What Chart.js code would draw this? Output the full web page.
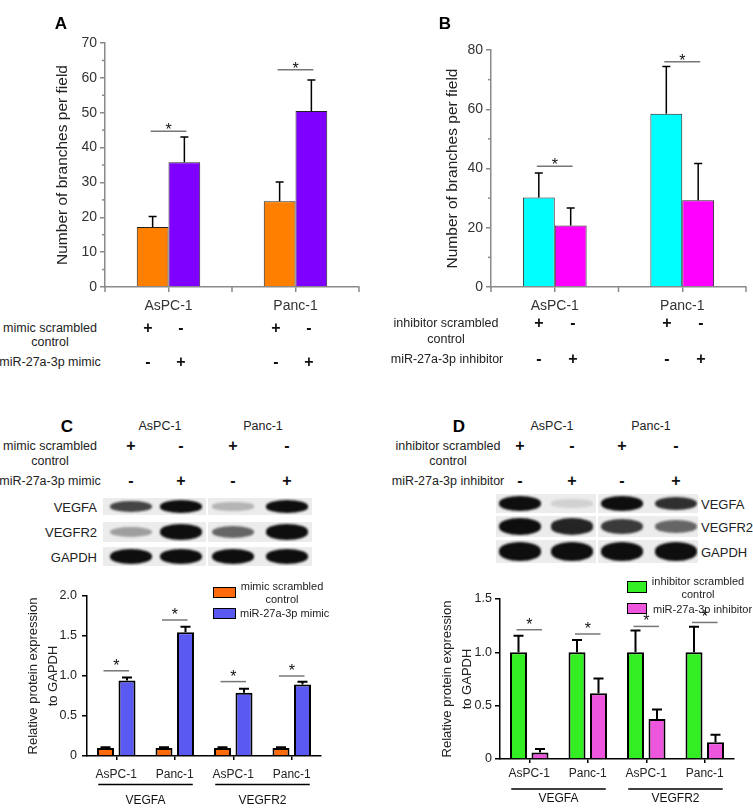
<!DOCTYPE html>
<html>
<head>
<meta charset="utf-8">
<script src="https://cdn.jsdelivr.net/npm/chart.js@4"></script>
<style>
body { margin: 0; background: #fff; width: 753px; height: 808px; position: relative; overflow: hidden;
       font-family: "Liberation Sans", Arial, sans-serif; color: #222; }
canvas { position: absolute; }
.t { position: absolute; white-space: nowrap; line-height: 1; }
.strip { position: absolute; background: #ececec; overflow: hidden; }
.band { position: absolute; border-radius: 50% / 45%; filter: blur(1px); }
</style>
</head>
<body>

<canvas id="chartA" style="left:49px;top:0px" width="327" height="320"></canvas>
<canvas id="chartB" style="left:439px;top:0px" width="314" height="320"></canvas>
<canvas id="chartC" style="left:20px;top:570px" width="356" height="238"></canvas>
<canvas id="chartD" style="left:434px;top:570px" width="319" height="238"></canvas>

<script>
// ---- data ----
const cellLines = ["AsPC-1", "Panc-1"];

// A: tube formation, mimic
const branchesMimicCtrl = [17.2, 24.6];
const branchesMimicCtrlSd = [3.0, 5.5];
const branchesMimic = [35.8, 50.5];
const branchesMimicSd = [7.2, 8.9];
const sigA = [44.7, 62.3];

// B: tube formation, inhibitor
const branchesInhCtrl = [30.2, 58.5];
const branchesInhCtrlSd = [8.3, 15.9];
const branchesInh = [20.8, 29.3];
const branchesInhSd = [5.9, 12.4];
const sigB = [40.8, 76];

// C / D: western blot quantification
const proteinLabels = ["AsPC-1", "Panc-1", "AsPC-1", "Panc-1"];
const proteinGroups = ["VEGFA", "VEGFR2"];

const proteinMimicCtrl = [0.1, 0.1, 0.1, 0.1];
const proteinMimicCtrlSd = [0.01, 0.01, 0.01, 0.01];
const proteinMimic = [0.945, 1.546, 0.79, 0.895];
const proteinMimicSd = [0.035, 0.07, 0.05, 0.033];
const sigC = [1.065, 1.7, 0.93, 1.0];

const proteinInhCtrl = [1.0, 1.0, 1.0, 1.0];
const proteinInhCtrlSd = [0.155, 0.115, 0.205, 0.24];
const proteinInh = [0.06, 0.617, 0.376, 0.157];
const proteinInhSd = [0.034, 0.138, 0.087, 0.071];
const sigD = [1.212, 1.172, 1.243, 1.28];

// blot band intensities (lanes: ctrl, treated, ctrl, treated)
const blotC_VEGFA = [0.75, 1, 0.25, 1];
const blotC_VEGFR2 = [0.35, 1, 0.6, 1];
const blotC_GAPDH = [1, 1, 1, 1];
const blotD_VEGFA = [1, 0.12, 1, 0.85];
const blotD_VEGFR2 = [1, 0.9, 0.8, 0.6];
const blotD_GAPDH = [1, 1, 1, 1];

const FONT = "'Liberation Sans', Arial, sans-serif";

// error bars, significance lines, extra ticks, group labels
const extras = {
    id: "extras",
    afterDatasetsDraw(chart, args, o) {
        const ctx = chart.ctx;
        const x = chart.scales.x;
        const y = chart.scales.y;
        ctx.save();

        chart.data.datasets.forEach((ds, di) => {
            chart.getDatasetMeta(di).data.forEach((bar, i) => {
                const top = y.getPixelForValue(ds.data[i] + ds.sd[i]);
                ctx.strokeStyle = "#000";
                ctx.lineWidth = o.errWidth;
                ctx.beginPath();
                ctx.moveTo(bar.x, bar.y);
                ctx.lineTo(bar.x, top);
                ctx.moveTo(bar.x - o.cap, top);
                ctx.lineTo(bar.x + o.cap, top);
                ctx.stroke();
            });
        });

        const m0 = chart.getDatasetMeta(0).data;
        const m1 = chart.getDatasetMeta(1).data;
        o.sig.forEach((v, i) => {
            const py = y.getPixelForValue(v);
            const x0 = m0[i].x - 2;
            const x1 = m1[i].x + 2;
            ctx.strokeStyle = "#777";
            ctx.lineWidth = 1.5;
            ctx.beginPath();
            ctx.moveTo(x0, py);
            ctx.lineTo(x1, py);
            ctx.stroke();
            ctx.fillStyle = "#111";
            ctx.font = "16px " + FONT;
            ctx.textAlign = "center";
            ctx.textBaseline = "alphabetic";
            ctx.fillText("*", (x0 + x1) / 2, py + o.starDy);
        });

        if (o.boundaryTicks) {
            ctx.strokeStyle = o.axisColor;
            ctx.lineWidth = 1.5;
            for (let i = 0; i <= chart.data.labels.length; i++) {
                const px = x.getPixelForValue(i - 0.5);
                ctx.beginPath();
                ctx.moveTo(px, x.top);
                ctx.lineTo(px, x.top + 5);
                ctx.stroke();
            }
            // short minor ticks on the y axis
            y.ticks.forEach((t, i) => {
                if (t.label !== "") return;
                const py = y.getPixelForTick(i);
                ctx.beginPath();
                ctx.moveTo(y.right, py);
                ctx.lineTo(y.right - 3, py);
                ctx.stroke();
            });
        }

        if (o.groups) {
            ctx.strokeStyle = "#000";
            ctx.lineWidth = 1.5;
            ctx.fillStyle = "#111";
            ctx.font = "12px " + FONT;
            ctx.textAlign = "center";
            ctx.textBaseline = "middle";
            o.groups.forEach((g, gi) => {
                const a = x.getPixelForValue(gi * 2) - 18;
                const b = x.getPixelForValue(gi * 2 + 1) + 18;
                ctx.beginPath();
                ctx.moveTo(a, x.top + o.groupLine);
                ctx.lineTo(b, x.top + o.groupLine);
                ctx.stroke();
                ctx.fillText(g, (a + b) / 2, x.top + o.groupText);
            });
        }
        ctx.restore();
    }
};

function barChart(id, cfg) {

    const ctx = document.getElementById(id);

    return new Chart(ctx, {
        type: "bar",
        data: {
            labels: cfg.labels,
            datasets: cfg.series.map(s => ({
                label: s.label,
                data: s.data,
                sd: s.sd,
                backgroundColor: s.color,
                borderColor: cfg.barBorder,
                borderWidth: cfg.barBorderWidth,
                borderSkipped: "bottom",
                categoryPercentage: cfg.catPct,
                barPercentage: cfg.barPct
            }))
        },
        options: {
            responsive: false,
            animation: false,
            devicePixelRatio: 1,
            layout: { padding: { top: cfg.padTop, right: cfg.padRight, left: 0, bottom: 0 } },
            plugins: {
                legend: { display: false },
                tooltip: { enabled: false },
                extras: {
                    sig: cfg.sig,
                    cap: cfg.cap,
                    errWidth: cfg.errWidth,
                    starDy: cfg.starDy,
                    boundaryTicks: cfg.boundaryTicks,
                    axisColor: cfg.axisColor,
                    groups: cfg.groups,
                    groupLine: cfg.groupLine,
                    groupText: cfg.groupText
                }
            },
            scales: {
                x: {
                    grid: { drawOnChartArea: false, offset: false, color: cfg.axisColor,
                            tickLength: cfg.xTickLen, lineWidth: 1.5 },
                    border: { color: cfg.axisColor, width: 1.5 },
                    ticks: { color: cfg.tickColor, font: { family: FONT, size: cfg.xFont },
                             padding: cfg.xPad, maxRotation: 0, autoSkip: false },
                    afterFit: s => { s.height = cfg.xHeight; }
                },
                y: {
                    min: 0,
                    max: cfg.max,
                    grid: {
                        drawOnChartArea: false,
                        tickLength: 5,
                        lineWidth: 1.5,
                        color: cfg.axisColor,
                        tickColor: c => (c.tick && c.tick.label === "" ? "rgba(0,0,0,0)" : cfg.axisColor)
                    },
                    border: { color: cfg.axisColor, width: 1.5 },
                    ticks: { stepSize: cfg.step, autoSkip: false, color: cfg.tickColor,
                             font: { family: FONT, size: cfg.yFont }, padding: cfg.yPad,
                             callback: cfg.tickFmt },
                    title: { display: true, text: cfg.title, color: "#222",
                             font: { family: FONT, size: cfg.titleFont, lineHeight: cfg.titleLh } },
                    afterFit: s => { s.width = cfg.yWidth; }
                }
            }
        },
        plugins: [extras]
    });
}

const branchTicks = every => v => (v % every === 0 ? String(v) : "");
const ratioTicks = v => (v === 0 ? "0" : v.toFixed(1));

barChart("chartA", {
    labels: cellLines,
    series: [
        { label: "mimic scrambled control", data: branchesMimicCtrl, sd: branchesMimicCtrlSd, color: "#ff8000" },
        { label: "miR-27a-3p mimic", data: branchesMimic, sd: branchesMimicSd, color: "#8000ff" }
    ],
    sig: sigA, max: 70, step: 5, tickFmt: branchTicks(10),
    title: "Number of branches per field", titleFont: 15.5, titleLh: 1.2,
    barBorder: "#222", barBorderWidth: 1, catPct: 0.5, barPct: 1,
    cap: 4, errWidth: 1.5, starDy: 4, boundaryTicks: true,
    axisColor: "#8a8a8a", tickColor: "#333", xFont: 14, yFont: 14, xPad: 6, yPad: 3, xTickLen: 5,
    padTop: 43, padRight: 17, yWidth: 56, xHeight: 33
});

barChart("chartB", {
    labels: cellLines,
    series: [
        { label: "inhibitor scrambled control", data: branchesInhCtrl, sd: branchesInhCtrlSd, color: "#00ffff" },
        { label: "miR-27a-3p inhibitor", data: branchesInh, sd: branchesInhSd, color: "#ff00ff" }
    ],
    sig: sigB, max: 80, step: 10, tickFmt: branchTicks(20),
    title: "Number of branches per field", titleFont: 15.5, titleLh: 1.2,
    barBorder: "#222", barBorderWidth: 1, catPct: 0.5, barPct: 1,
    cap: 4, errWidth: 1.5, starDy: 4, boundaryTicks: true,
    axisColor: "#8a8a8a", tickColor: "#333", xFont: 14, yFont: 14, xPad: 6, yPad: 3, xTickLen: 5,
    padTop: 50, padRight: 7, yWidth: 52, xHeight: 33
});

barChart("chartC", {
    labels: proteinLabels,
    series: [
        { label: "mimic scrambled control", data: proteinMimicCtrl, sd: proteinMimicCtrlSd, color: "#ff6a0a" },
        { label: "miR-27a-3p mimic", data: proteinMimic, sd: proteinMimicSd, color: "#5a5af2" }
    ],
    sig: sigC, max: 2, step: 0.5, tickFmt: ratioTicks,
    title: ["Relative protein expression", "to GAPDH"], titleFont: 13, titleLh: 1.5,
    barBorder: "#000", barBorderWidth: 2, catPct: 0.735, barPct: 0.79,
    cap: 5, errWidth: 2, starDy: 0, boundaryTicks: false,
    groups: proteinGroups, groupLine: 28.5, groupText: 44.5,
    axisColor: "#000", tickColor: "#222", xFont: 12, yFont: 12.5, xPad: 7, yPad: 5, xTickLen: 4,
    padTop: 26, padRight: 55, yWidth: 67, xHeight: 52
});

barChart("chartD", {
    labels: proteinLabels,
    series: [
        { label: "inhibitor scrambled control", data: proteinInhCtrl, sd: proteinInhCtrlSd, color: "#33ee22" },
        { label: "miR-27a-3p inhibitor", data: proteinInh, sd: proteinInhSd, color: "#ee55dd" }
    ],
    sig: sigD, max: 1.5, step: 0.5, tickFmt: ratioTicks,
    title: ["Relative protein expression", "to GAPDH"], titleFont: 13, titleLh: 1.5,
    barBorder: "#000", barBorderWidth: 2, catPct: 0.735, barPct: 0.79,
    cap: 5, errWidth: 2, starDy: 0, boundaryTicks: false,
    groups: proteinGroups, groupLine: 30, groupText: 40,
    axisColor: "#000", tickColor: "#222", xFont: 12, yFont: 12.5, xPad: 3, yPad: 3, xTickLen: 4,
    padTop: 29, padRight: 19, yWidth: 66, xHeight: 49
});

// ---- html text: panel letters, treatment rows, blot labels, legends ----
function text(str, x, y, size, align, weight, color) {
    const el = document.createElement("div");
    el.className = "t";
    el.textContent = str;
    el.style.left = x + "px";
    el.style.top = y + "px";
    el.style.fontSize = size + "px";
    el.style.fontWeight = weight || "normal";
    if (color) el.style.color = color;
    const tx = align === "l" ? "0" : align === "r" ? "-100%" : "-50%";
    el.style.transform = "translate(" + tx + ",-50%)";
    document.body.appendChild(el);
}

function marks(row1, row2, xs, y1, y2) {
    xs.forEach((x, i) => {
        text(row1[i], x, y1, 16, "c", "bold", "#111");
        text(row2[i], x, y2, 16, "c", "bold", "#111");
    });
}

const ctrlRow = ["+", "-", "+", "-"];
const treatRow = ["-", "+", "-", "+"];

text("A", 61, 23, 17, "c", "bold", "#000");
text("B", 445, 23, 17, "c", "bold", "#000");
text("C", 67, 426, 17, "c", "bold", "#000");
text("D", 459, 426, 17, "c", "bold", "#000");

text("mimic scrambled", 50, 328, 12.5, "c");
text("control", 50, 342, 12.5, "c");
text("miR-27a-3p mimic", 50, 362, 12.5, "c");
marks(ctrlRow, treatRow, [148, 181, 276, 309], 328, 362);

text("inhibitor scrambled", 446, 323, 12.5, "c");
text("control", 446, 339, 12.5, "c");
text("miR-27a-3p inhibitor", 447, 359, 12.5, "c");
marks(ctrlRow, treatRow, [539, 573, 667, 701], 323, 359);

text("AsPC-1", 160, 426, 12.5, "c");
text("Panc-1", 263, 426, 12.5, "c");
text("mimic scrambled", 50, 446, 12.5, "c");
text("control", 50, 461, 12.5, "c");
text("miR-27a-3p mimic", 50, 481, 12.5, "c");
marks(ctrlRow, treatRow, [131, 181, 233, 287], 446, 481);

text("AsPC-1", 552, 426, 12.5, "c");
text("Panc-1", 651, 426, 12.5, "c");
text("inhibitor scrambled", 448, 446, 12.5, "c");
text("control", 448, 461, 12.5, "c");
text("miR-27a-3p inhibitor", 448, 481, 12.5, "c");
marks(ctrlRow, treatRow, [520, 572, 622, 676], 446, 481);

// blots
function blotRow(panels, lanes, yTop, yBot, values) {
    panels.forEach((p, pi) => {
        const s = document.createElement("div");
        s.className = "strip";
        s.style.left = p[0] + "px";
        s.style.width = (p[1] - p[0]) + "px";
        s.style.top = yTop + "px";
        s.style.height = (yBot - yTop) + "px";
        document.body.appendChild(s);
        [0, 1].forEach(k => {
            const li = pi * 2 + k;
            const v = values[li];
            const h = (yBot - yTop - 4) * (0.5 + 0.5 * v);
            const b = document.createElement("div");
            b.className = "band";
            b.style.width = "42px";
            b.style.height = h + "px";
            b.style.left = (lanes[li] - p[0] - 21) + "px";
            b.style.top = ((yBot - yTop) / 2 - h / 2) + "px";
            b.style.background = "rgba(14,14,14," + v + ")";
            s.appendChild(b);
        });
    });
}

const panelsC = [[103, 206], [208, 312]];
const lanesC = [131, 181, 233, 287];
blotRow(panelsC, lanesC, 498, 515, blotC_VEGFA);
blotRow(panelsC, lanesC, 522, 542, blotC_VEGFR2);
blotRow(panelsC, lanesC, 547, 566, blotC_GAPDH);
text("VEGFA", 97, 507, 13, "r");
text("VEGFR2", 97, 532, 13, "r");
text("GAPDH", 97, 557, 13, "r");

const panelsD = [[496, 596], [598, 698]];
const lanesD = [520, 572, 622, 676];
blotRow(panelsD, lanesD, 494, 513, blotD_VEGFA);
blotRow(panelsD, lanesD, 516, 537, blotD_VEGFR2);
blotRow(panelsD, lanesD, 540, 563, blotD_GAPDH);
text("VEGFA", 701, 504, 13, "l");
text("VEGFR2", 701, 527, 13, "l");
text("GAPDH", 701, 552, 13, "l");

// legends
function legendBox(x, y, w, h, color) {
    const el = document.createElement("div");
    el.style.position = "absolute";
    el.style.left = x + "px";
    el.style.top = y + "px";
    el.style.width = w + "px";
    el.style.height = h + "px";
    el.style.background = color;
    el.style.border = "1.5px solid #000";
    el.style.boxSizing = "border-box";
    document.body.appendChild(el);
}

legendBox(213, 587, 23, 11, "#ff6a0a");
legendBox(213, 608, 23, 11, "#5a5af2");
text("mimic scrambled", 282, 586, 11, "c");
text("control", 282, 599, 11, "c");
text("miR-27a-3p mimic", 240, 613, 11, "l");

legendBox(627, 581, 20, 12, "#33ee22");
legendBox(627, 603, 20, 11, "#ee55dd");
text("inhibitor scrambled", 698, 581, 11, "c");
text("control", 698, 594, 11, "c");
text("miR-27a-3p inhibitor", 653, 609, 11, "l");
</script>
</body>
</html>
